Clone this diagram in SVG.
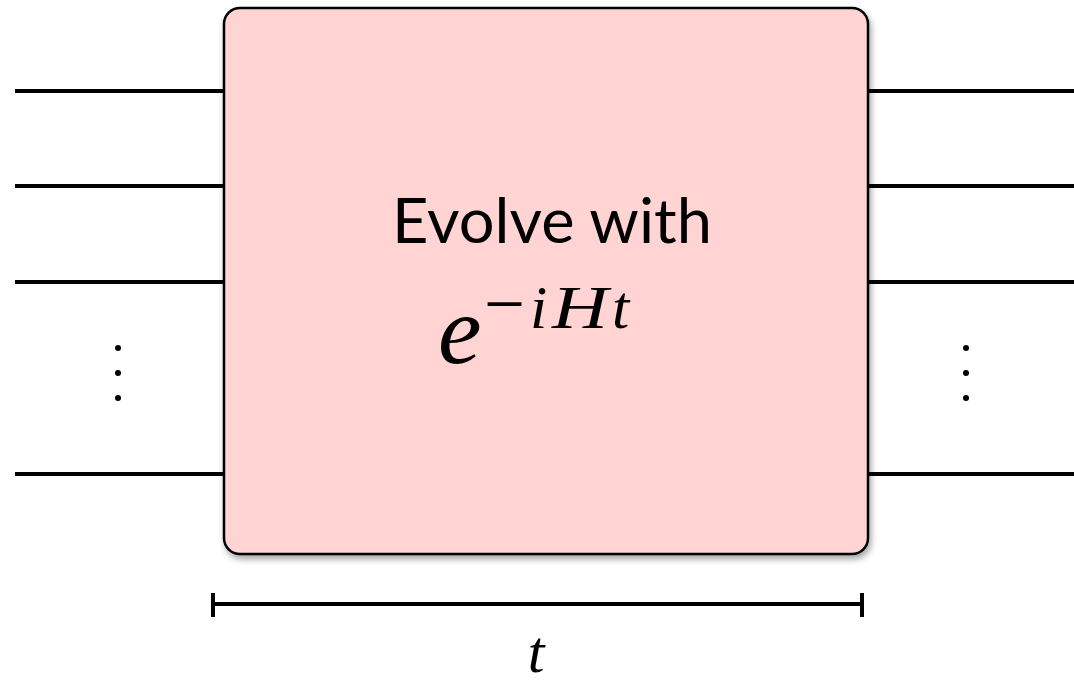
<svg xmlns="http://www.w3.org/2000/svg" width="1074" height="683" viewBox="0 0 1074 683">
<style>
.w{stroke:#000;stroke-width:4;fill:none}
.dot{fill:#000}
.m{font-family:"Liberation Serif","DejaVu Serif",serif;font-style:italic;fill:#000}
.lbl{font-family:Lato,"Liberation Sans",sans-serif;fill:#000}
</style>
<defs>
<filter id="sh" x="-10%" y="-10%" width="120%" height="120%">
<feGaussianBlur in="SourceAlpha" stdDeviation="3"/>
<feOffset dx="2" dy="4"/>
<feComponentTransfer><feFuncA type="linear" slope="0.35"/></feComponentTransfer>
<feMerge><feMergeNode/><feMergeNode in="SourceGraphic"/></feMerge>
</filter>
</defs>
<g id="connectors">
<line class="w" x1="15" y1="91" x2="224" y2="91"/>
<line class="w" x1="15" y1="186" x2="224" y2="186"/>
<line class="w" x1="15" y1="282" x2="224" y2="282"/>
<line class="w" x1="15" y1="474" x2="224" y2="474"/>
<line class="w" x1="867" y1="91" x2="1074" y2="91"/>
<line class="w" x1="867" y1="186" x2="1074" y2="186"/>
<line class="w" x1="867" y1="282" x2="1074" y2="282"/>
<line class="w" x1="867" y1="474" x2="1074" y2="474"/>
</g>
<g id="dots-left">
<circle class="dot" cx="118" cy="348" r="3"/>
<circle class="dot" cx="118" cy="373" r="3"/>
<circle class="dot" cx="118" cy="398" r="3"/>
</g>
<g id="dots-right">
<circle class="dot" cx="966" cy="348" r="3"/>
<circle class="dot" cx="966" cy="373" r="3"/>
<circle class="dot" cx="966" cy="398" r="3"/>
</g>
<g id="evolve">
<rect x="224" y="8" width="644" height="546" rx="16" ry="16" fill="#ffd4d2" stroke="#000" stroke-width="2.5" filter="url(#sh)"/>
<text class="lbl" x="552" y="243" font-size="62" text-anchor="middle" textLength="320" lengthAdjust="spacingAndGlyphs">Evolve with</text>
<text class="m" x="438" y="363" font-size="98">e</text>
<text class="m" y="328" font-size="62"><tspan x="484" font-style="normal" font-size="72" textLength="41" lengthAdjust="spacingAndGlyphs">−</tspan><tspan x="530">i</tspan><tspan x="552" textLength="56" lengthAdjust="spacingAndGlyphs">H</tspan><tspan x="612">t</tspan></text>
</g>
<g id="time">
<line class="w" x1="213" y1="604" x2="862" y2="604"/>
<line class="w" x1="213" y1="593" x2="213" y2="617"/>
<line class="w" x1="862" y1="593" x2="862" y2="617"/>
<text class="m" x="536" y="672" font-size="60" text-anchor="middle">t</text>
</g>
</svg>
